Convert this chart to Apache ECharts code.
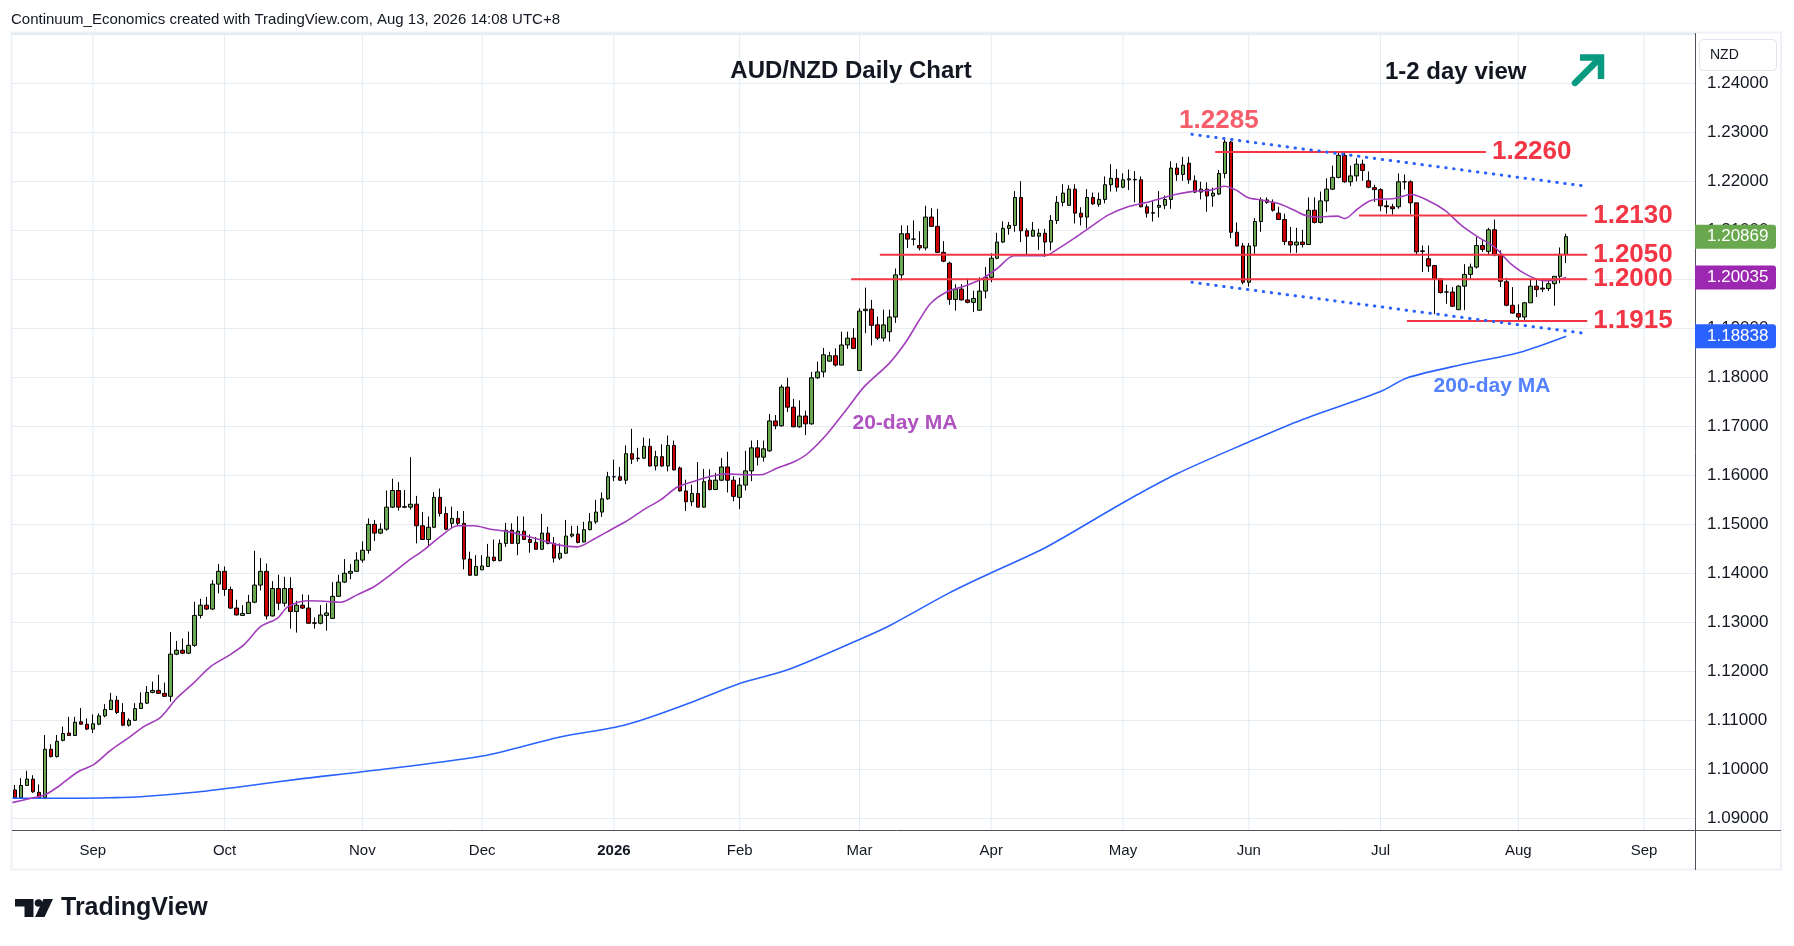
<!DOCTYPE html>
<html>
<head>
<meta charset="utf-8">
<title>AUD/NZD Daily Chart</title>
<script src="https://cdn.jsdelivr.net/npm/echarts@6/dist/echarts.min.js"></script>
<style>
  html, body { margin: 0; padding: 0; background: #fff; }
  #chart { width: 1794px; height: 946px; }
</style>
</head>
<body>
<div id="chart"></div>
<script>
// ---- trading days (weekdays, no Xmas / New Year) ----
const holidays = ['2025-12-25', '2026-01-01'];
const dates = [];
for (let d = new Date(Date.UTC(2025, 7, 13)); dates.length < 281; d.setUTCDate(d.getUTCDate() + 1)) {
  const wd = d.getUTCDay();
  const s = d.toISOString().slice(0, 10);
  if (wd === 0 || wd === 6 || holidays.includes(s)) continue;
  dates.push(s);
}
const MONTHS = ['Jan','Feb','Mar','Apr','May','Jun','Jul','Aug','Sep','Oct','Nov','Dec'];

// ---- daily candles ----
const opens = [
  1.0958,1.0942,1.0967,1.0980,1.0953,1.0942,1.1041,1.1026,1.1059,1.1074,
  1.1069,1.1097,1.1092,1.1082,1.1092,1.1109,1.1122,1.1141,1.1116,1.1090,
  1.1100,1.1124,1.1135,1.1157,1.1161,1.1155,1.1149,1.1235,1.1243,1.1237,
  1.1253,1.1314,1.1335,1.1327,1.1378,1.1404,1.1367,1.1329,1.1314,1.1318,
  1.1341,1.1376,1.1404,1.1313,1.1369,1.1339,1.1369,1.1322,1.1335,1.1329,
  1.1299,1.1298,1.1314,1.1308,1.1353,1.1382,1.1400,1.1404,1.1427,1.1447,
  1.1500,1.1482,1.1490,1.1535,1.1569,1.1536,1.1535,1.1541,1.1497,1.1469,
  1.1494,1.1555,1.1522,1.1502,1.1512,1.1502,1.1429,1.1396,1.1407,1.1414,
  1.1433,1.1426,1.1461,1.1488,1.1461,1.1486,1.1469,1.1463,1.1449,1.1482,
  1.1461,1.1431,1.1441,1.1476,1.1480,1.1464,1.1489,1.1505,1.1525,1.1552,
  1.1597,1.1597,1.1590,1.1644,1.1634,1.1635,1.1659,1.1619,1.1638,1.1619,
  1.1661,1.1615,1.1568,1.1546,1.1563,1.1535,1.1590,1.1571,1.1590,1.1617,
  1.1590,1.1555,1.1580,1.1609,1.1656,1.1637,1.1650,1.1711,1.1701,1.1780,
  1.1739,1.1699,1.1721,1.1705,1.1799,1.1811,1.1833,1.1844,1.1825,1.1866,
  1.1880,1.1814,1.1936,1.1939,1.1907,1.1880,1.1893,1.1923,1.2009,1.2093,
  1.2082,1.2069,1.2064,1.2127,1.2108,1.2055,1.2033,1.1959,1.1980,1.1958,
  1.1953,1.1937,1.1976,1.2004,1.2043,1.2076,1.2104,1.2110,1.2167,1.2099,
  1.2088,1.2088,1.2094,1.2076,1.2120,1.2157,1.2151,1.2184,1.2135,1.2127,
  1.2167,1.2153,1.2163,1.2193,1.2206,1.2188,1.2203,1.2204,1.2203,1.2148,
  1.2136,1.2147,1.2151,1.2163,1.2227,1.2214,1.2237,1.2201,1.2178,1.2184,
  1.2170,1.2174,1.2216,1.2280,1.2096,1.2068,1.1994,1.2068,1.2118,1.2162,
  1.2157,1.2135,1.2122,1.2077,1.2070,1.2076,1.2071,1.2141,1.2116,1.2160,
  1.2184,1.2208,1.2253,1.2199,1.2211,1.2235,1.2201,1.2187,1.2183,1.2150,
  1.2148,1.2148,1.2199,1.2199,1.2156,1.2058,1.2042,1.2028,1.2001,1.1974,
  1.1974,1.1938,1.1986,1.2010,1.2025,1.2069,1.2057,1.2101,1.2050,1.1995,
  1.1947,1.1930,1.1923,1.1952,1.1986,1.1982,1.1981,1.1991,1.2006,1.2051
];
const closes = [
  1.0942,1.0967,1.0980,1.0954,1.0942,1.1041,1.1026,1.1057,1.1073,1.1069,
  1.1096,1.1092,1.1082,1.1093,1.1109,1.1122,1.1141,1.1116,1.1090,1.1100,
  1.1124,1.1135,1.1157,1.1161,1.1155,1.1149,1.1235,1.1243,1.1237,1.1253,
  1.1314,1.1335,1.1327,1.1378,1.1404,1.1367,1.1329,1.1315,1.1318,1.1341,
  1.1376,1.1404,1.1313,1.1369,1.1339,1.1369,1.1322,1.1335,1.1329,1.1298,
  1.1298,1.1315,1.1319,1.1353,1.1382,1.1400,1.1404,1.1427,1.1447,1.1500,
  1.1482,1.1490,1.1535,1.1569,1.1535,1.1535,1.1541,1.1497,1.1469,1.1494,
  1.1555,1.1522,1.1490,1.1512,1.1502,1.1429,1.1396,1.1414,1.1415,1.1433,
  1.1426,1.1461,1.1488,1.1461,1.1486,1.1469,1.1463,1.1449,1.1482,1.1461,
  1.1431,1.1441,1.1476,1.1480,1.1463,1.1489,1.1505,1.1525,1.1552,1.1597,
  1.1597,1.1590,1.1644,1.1633,1.1635,1.1659,1.1619,1.1638,1.1619,1.1661,
  1.1611,1.1568,1.1546,1.1563,1.1535,1.1587,1.1571,1.1590,1.1617,1.1590,
  1.1557,1.1580,1.1609,1.1656,1.1637,1.1654,1.1711,1.1701,1.1780,1.1739,
  1.1699,1.1721,1.1705,1.1799,1.1811,1.1846,1.1844,1.1825,1.1866,1.1880,
  1.1859,1.1935,1.1939,1.1906,1.1880,1.1907,1.1923,1.2009,1.2093,1.2082,
  1.2082,1.2064,1.2127,1.2108,1.2055,1.2037,1.1959,1.1980,1.1958,1.1953,
  1.1961,1.1976,1.2004,1.2043,1.2076,1.2104,1.2110,1.2167,1.2099,1.2088,
  1.2100,1.2094,1.2076,1.2120,1.2157,1.2176,1.2184,1.2135,1.2127,1.2167,
  1.2154,1.2163,1.2193,1.2206,1.2188,1.2203,1.2205,1.2203,1.2148,1.2135,
  1.2135,1.2151,1.2163,1.2227,1.2214,1.2233,1.2203,1.2178,1.2184,1.2170,
  1.2176,1.2216,1.2280,1.2096,1.2068,1.1994,1.2068,1.2118,1.2162,1.2157,
  1.2141,1.2122,1.2077,1.2070,1.2076,1.2071,1.2141,1.2116,1.2160,1.2184,
  1.2208,1.2253,1.2199,1.2211,1.2235,1.2222,1.2188,1.2183,1.2150,1.2148,
  1.2144,1.2199,1.2199,1.2156,1.2056,1.2057,1.2027,1.2001,1.1973,1.1974,
  1.1945,1.1986,1.2010,1.2025,1.2069,1.2061,1.2101,1.2050,1.1996,1.1947,
  1.1931,1.1923,1.1952,1.1986,1.1979,1.1980,1.1991,1.2006,1.2051,1.2087
];
const lows = [
  1.0941,1.0941,1.0966,1.0952,1.0941,1.0941,1.1024,1.1024,1.1057,1.1069,
  1.1068,1.1091,1.1080,1.1074,1.1090,1.1106,1.1121,1.1113,1.1088,1.1087,
  1.1099,1.1123,1.1133,1.1155,1.1154,1.1148,1.1138,1.1233,1.1235,1.1235,
  1.1250,1.1308,1.1325,1.1325,1.1359,1.1354,1.1327,1.1314,1.1313,1.1317,
  1.1339,1.1365,1.1306,1.1312,1.1325,1.1332,1.1287,1.1279,1.1327,1.1297,
  1.1287,1.1296,1.1283,1.1307,1.1352,1.1380,1.1388,1.1403,1.1422,1.1440,
  1.1466,1.1480,1.1487,1.1533,1.1528,1.1533,1.1530,1.1461,1.1468,1.1456,
  1.1492,1.1516,1.1488,1.1492,1.1498,1.1408,1.1395,1.1395,1.1407,1.1413,
  1.1424,1.1424,1.1454,1.1460,1.1437,1.1468,1.1442,1.1448,1.1448,1.1459,
  1.1422,1.1427,1.1440,1.1473,1.1461,1.1463,1.1488,1.1501,1.1515,1.1550,
  1.1588,1.1589,1.1582,1.1623,1.1628,1.1633,1.1618,1.1610,1.1617,1.1608,
  1.1610,1.1567,1.1527,1.1537,1.1535,1.1534,1.1569,1.1570,1.1588,1.1565,
  1.1547,1.1531,1.1569,1.1588,1.1620,1.1628,1.1648,1.1694,1.1699,1.1729,
  1.1698,1.1697,1.1682,1.1703,1.1797,1.1800,1.1832,1.1822,1.1824,1.1858,
  1.1858,1.1814,1.1890,1.1865,1.1876,1.1873,1.1873,1.1911,1.1998,1.2064,
  1.2069,1.2059,1.2059,1.2108,1.2054,1.2035,1.1948,1.1936,1.1957,1.1951,
  1.1933,1.1936,1.1961,1.1994,1.2041,1.2074,1.2091,1.2097,1.2076,1.2049,
  1.2087,1.2060,1.2046,1.2059,1.2113,1.2149,1.2150,1.2114,1.2110,1.2104,
  1.2152,1.2148,1.2155,1.2179,1.2179,1.2186,1.2182,1.2157,1.2147,1.2126,
  1.2118,1.2126,1.2143,1.2144,1.2201,1.2201,1.2195,1.2176,1.2163,1.2138,
  1.2148,1.2172,1.2206,1.2084,1.2067,1.1990,1.1985,1.2052,1.2097,1.2154,
  1.2138,1.2121,1.2070,1.2054,1.2054,1.2065,1.2070,1.2114,1.2114,1.2138,
  1.2182,1.2206,1.2197,1.2190,1.2200,1.2201,1.2186,1.2158,1.2139,1.2134,
  1.2132,1.2144,1.2183,1.2133,1.2051,1.2015,1.2015,1.1929,1.1971,1.1950,
  1.1944,1.1937,1.1937,1.1999,1.2022,1.2056,1.2049,1.2047,1.1984,1.1945,
  1.1930,1.1916,1.1916,1.1952,1.1964,1.1974,1.1976,1.1946,1.1992,1.2033
];
const highs = [
  1.0968,1.0982,1.0997,1.0988,1.0969,1.1070,1.1051,1.1070,1.1087,1.1107,
  1.1107,1.1125,1.1104,1.1112,1.1114,1.1133,1.1156,1.1150,1.1135,1.1104,
  1.1135,1.1157,1.1170,1.1179,1.1193,1.1177,1.1280,1.1262,1.1267,1.1281,
  1.1342,1.1348,1.1352,1.1386,1.1419,1.1414,1.1373,1.1346,1.1335,1.1356,
  1.1446,1.1431,1.1420,1.1384,1.1397,1.1393,1.1392,1.1344,1.1357,1.1356,
  1.1310,1.1335,1.1339,1.1382,1.1397,1.1429,1.1419,1.1443,1.1465,1.1512,
  1.1509,1.1502,1.1569,1.1593,1.1586,1.1570,1.1637,1.1558,1.1525,1.1516,
  1.1566,1.1573,1.1536,1.1536,1.1527,1.1527,1.1444,1.1437,1.1437,1.1460,
  1.1469,1.1469,1.1503,1.1502,1.1516,1.1516,1.1479,1.1474,1.1521,1.1495,
  1.1474,1.1461,1.1509,1.1497,1.1497,1.1505,1.1523,1.1550,1.1565,1.1607,
  1.1632,1.1617,1.1661,1.1695,1.1656,1.1677,1.1675,1.1650,1.1663,1.1681,
  1.1671,1.1618,1.1591,1.1581,1.1627,1.1613,1.1612,1.1605,1.1635,1.1648,
  1.1598,1.1595,1.1650,1.1671,1.1672,1.1671,1.1725,1.1723,1.1785,1.1799,
  1.1756,1.1753,1.1732,1.1811,1.1832,1.1860,1.1852,1.1859,1.1893,1.1893,
  1.1900,1.1941,1.1983,1.1958,1.1924,1.1938,1.1938,1.2022,1.2110,1.2110,
  1.2120,1.2098,1.2150,1.2145,1.2144,1.2078,1.2036,1.1990,1.1990,1.2002,
  1.1977,1.2004,1.2025,1.2053,1.2095,1.2118,1.2117,1.2180,1.2200,1.2104,
  1.2117,1.2103,1.2103,1.2131,1.2170,1.2194,1.2192,1.2194,1.2147,1.2184,
  1.2177,1.2177,1.2210,1.2235,1.2225,1.2216,1.2224,1.2221,1.2210,1.2153,
  1.2162,1.2180,1.2171,1.2241,1.2237,1.2250,1.2250,1.2212,1.2199,1.2198,
  1.2187,1.2223,1.2286,1.2282,1.2116,1.2074,1.2074,1.2125,1.2167,1.2167,
  1.2163,1.2148,1.2134,1.2107,1.2105,1.2101,1.2167,1.2167,1.2179,1.2206,
  1.2232,1.2259,1.2259,1.2232,1.2247,1.2244,1.2220,1.2193,1.2186,1.2161,
  1.2154,1.2216,1.2214,1.2202,1.2156,1.2069,1.2069,1.2028,1.2001,1.1989,
  1.1984,1.1988,1.2031,1.2032,1.2086,1.2080,1.2105,1.2122,1.2059,1.2003,
  1.1984,1.1949,1.1954,1.2001,1.2001,1.1998,1.1998,1.2006,1.2065,1.2093
];

// ---- moving averages, [bar index, value] ----
const ma20 = [[-0.5,1.0932],[2,1.0939],[5,1.0948],[7.6,1.0968],[10.4,1.0994],[13.2,1.1010],[16,1.1039],[18.7,1.1062],
  [21.5,1.1087],[24.3,1.1106],[27,1.1145],[29.9,1.1177],[32.7,1.1210],[35.4,1.1230],[38.2,1.1254],[41,1.1291],
  [43.8,1.1308],[45.5,1.1331],[48.8,1.1344],[51.6,1.1343],[54.4,1.1341],[57.1,1.1356],[60,1.1373],[62.7,1.1397],
  [65.5,1.1424],[68.3,1.1448],[71,1.1475],[73.9,1.1497],[76.6,1.1497],[79.4,1.1490],[82.3,1.1485],[85,1.1477],
  [87.8,1.1468],[90.6,1.1458],[93.9,1.1454],[96.7,1.1470],[99.5,1.1489],[102.3,1.1508],[105,1.1530],[107.8,1.1550],
  [110.6,1.1576],[113.4,1.1588],[116.2,1.1598],[119,1.1603],[121.7,1.1601],[124.5,1.1601],[127.3,1.1615],[130,1.1627],
  [132.3,1.1644],[135.7,1.1686],[139,1.1737],[141.8,1.1781],[146,1.1829],[148.8,1.1873],[151,1.1917],[152.9,1.1951],
  [155.7,1.1975],[158.5,1.1986],[161.3,1.2000],[164,1.2022],[166.8,1.2048],[169.6,1.2048],[171.9,1.2048],[174,1.2061],
  [176.9,1.2084],[179.6,1.2107],[182.5,1.2131],[185.8,1.2148],[188.6,1.2156],[191.3,1.2165],[194.1,1.2174],[196.9,1.2180],
  [199.7,1.2182],[201.9,1.2190],[203.9,1.2182],[205.8,1.2167],[208,1.2162],[210.8,1.2155],[213.6,1.2141],[215.3,1.2131],
  [217.5,1.2127],[220.8,1.2129],[222,1.2124],[224.2,1.2144],[226.4,1.2161],[230.3,1.2165],[233.1,1.2173],[235.9,1.2161],
  [238.7,1.2141],[241.5,1.2110],[244.3,1.2086],[247,1.2066],[249.8,1.2031],[252.6,1.2008],[255.4,1.1997],[257,1.1998],
  [259,1.20035]];
const ma200 = [[-0.5,1.0941],[10,1.0941],[16,1.0942],[21,1.0944],[30,1.0953],[38,1.0965],[48,1.0981],[58,1.0995],
  [78,1.1027],[91,1.1066],[102,1.1091],[113,1.1137],[121,1.1175],[129,1.1203],[141,1.1265],[146,1.1293],
  [156,1.1360],[163,1.1401],[172,1.1452],[185,1.1544],[194,1.1603],[206,1.1668],[215,1.1714],[228,1.1771],
  [232.5,1.1799],[242,1.1827],[251,1.1850],[259,1.18838]];

// ---- drawn levels ----
const levelValues = [1.2260, 1.2130, 1.2050, 1.2000, 1.1915];
const levelStart  = [200.4, 224.4, 144.4, 139.6, 232.4];
const levelEnd    = [245.6, 262.5, 262.5, 262.5, 262.5];
const channelTop    = [[196.5, 1.22959], [262.0, 1.21904]];
const channelBottom = [[196.5, 1.19939], [262.0, 1.18898]];
const lastClose = 1.20869, lastMa20 = 1.20035, lastMa200 = 1.18838;

const Y_MIN = 1.087469, Y_MAX = 1.250265;
const GRID = '#e4ebf2';
const RED = '#f23645';
const FONT = '"Liberation Sans", Arial, sans-serif';

const monthStarts = [];
dates.forEach((s, i) => { if (i > 0 && s.slice(5, 7) !== dates[i - 1].slice(5, 7)) monthStarts.push(i); });

const series = [];
// vertical month grid lines
monthStarts.forEach(i => series.push({
  type: 'line', xAxisIndex: 1, data: [[i, Y_MIN], [i, Y_MAX]], symbol: 'none', silent: true,
  lineStyle: { color: GRID, width: 1 }, z: 0
}));
series.push({
  type: 'candlestick', xAxisIndex: 0, yAxisIndex: 0, barWidth: 4,
  data: opens.map((o, i) => [o, closes[i], lows[i], highs[i]]),
  itemStyle: { color: '#6aa84f', color0: '#cc0000', borderColor: '#000', borderColor0: '#000', borderWidth: 1 },
  z: 2
});
series.push({
  type: 'line', xAxisIndex: 1, data: ma200, smooth: 0.3, symbol: 'none', silent: true,
  lineStyle: { color: '#2962ff', width: 1.6 }, z: 3
});
series.push({
  type: 'line', xAxisIndex: 1, data: ma20, smooth: 0.3, symbol: 'none', silent: true,
  lineStyle: { color: '#a23dbb', width: 1.6 }, z: 3
});
levelValues.forEach((v, k) => series.push({
  type: 'line', xAxisIndex: 1, data: [[levelStart[k], v], [levelEnd[k], v]], symbol: 'none', silent: true,
  lineStyle: { color: RED, width: 2 }, z: 5,
  endLabel: { show: true, formatter: v.toFixed(4), color: RED, fontSize: 26, fontWeight: 'bold', fontFamily: FONT, distance: 6 }
}));
[channelTop, channelBottom].forEach(d => series.push({
  type: 'line', xAxisIndex: 1, data: d, symbol: 'none', silent: true,
  lineStyle: { color: '#2962ff', width: 3, type: [0.5, 7.5], cap: 'round' }, z: 5
}));
// text annotations anchored in data space
const note = (x, y, text, color, size) => ({
  type: 'scatter', xAxisIndex: 1, data: [[x, y]], symbol: 'circle', symbolSize: 1, silent: true,
  itemStyle: { color: 'rgba(0,0,0,0)' }, z: 6,
  label: { show: true, position: 'inside', formatter: text, color: color, fontSize: size, fontWeight: 'bold', fontFamily: FONT }
});
series.push(note(201.0, 1.23231, '1.2285', RED, 26));
series.push(note(148.6, 1.17067, '20-day MA', '#9c27b0', 21));
series.push(note(246.6, 1.17822, '200-day MA', '#2962ff', 21));

const chart = echarts.init(document.getElementById('chart'));
chart.setOption({
  animation: false,
  backgroundColor: '#fff',
  textStyle: { fontFamily: FONT },
  grid: { left: 12, right: 99, top: 33, bottom: 115.3 },
  xAxis: [{
    type: 'category', data: dates, boundaryGap: true,
    axisLine: { show: false }, axisTick: { show: false }, splitLine: { show: false },
    axisLabel: {
      interval: (i) => monthStarts.includes(i),
      formatter: (v) => { const m = +v.slice(5, 7); return m === 1 ? '{y|' + v.slice(0, 4) + '}' : MONTHS[m - 1]; },
      rich: { y: { fontWeight: 'bold', fontSize: 15, color: '#131722', fontFamily: FONT } },
      color: '#131722', fontSize: 15, margin: 13
    }
  }, {
    type: 'value', min: -0.5, max: dates.length - 0.5, show: false
  }],
  yAxis: {
    type: 'value', position: 'right', min: Y_MIN, max: Y_MAX, splitNumber: 16,
    axisLine: { show: false }, axisTick: { show: false },
    splitLine: { lineStyle: { color: GRID, width: 1 } },
    axisLabel: {
      margin: 12, fontSize: 17, color: '#131722',
      formatter: (v) => (v > 1.2455 || v < 1.0885) ? '' : v.toFixed(5)
    }
  },
  series: series
});

const py = v => chart.convertToPixel({ yAxisIndex: 0 }, v);
const priceTag = (v, color) => ([
  { type: 'rect', z: 100, shape: { x: 1695, y: py(v) - 12, width: 81, height: 24, r: [0, 3, 3, 0] }, style: { fill: color } },
  { type: 'text', z: 101, x: 1707, y: py(v), style: { text: v.toFixed(5), fill: '#fff', fontSize: 17, fontFamily: FONT, verticalAlign: 'middle' } }
]);

chart.setOption({
  graphic: [
    { type: 'rect', z: 90, shape: { x: 11.5, y: 32.5, width: 1769.5, height: 837 }, style: { fill: 'none', stroke: '#eef1f6', lineWidth: 2 } },
    { type: 'line', z: 91, shape: { x1: 12, y1: 830.5, x2: 1781, y2: 830.5 }, style: { stroke: '#50535e', lineWidth: 1 } },
    { type: 'line', z: 91, shape: { x1: 1695.5, y1: 33, x2: 1695.5, y2: 870 }, style: { stroke: '#50535e', lineWidth: 1 } },
    { type: 'rect', z: 100, shape: { x: 1699.5, y: 39.5, width: 77, height: 31, r: 4 }, style: { fill: '#fff', stroke: '#e0e3eb', lineWidth: 1 } },
    { type: 'text', z: 101, x: 1710, y: 55, style: { text: 'NZD', fill: '#131722', fontSize: 14, fontFamily: FONT, verticalAlign: 'middle' } },
    ...priceTag(lastClose, '#6aa84f'),
    ...priceTag(lastMa20, '#9c27b0'),
    ...priceTag(lastMa200, '#2962ff'),
    { type: 'text', z: 100, x: 11, y: 20, style: { text: 'Continuum_Economics created with TradingView.com, Aug 13, 2026 14:08 UTC+8', fill: '#131722', fontSize: 15, fontFamily: FONT, verticalAlign: 'middle' } },
    { type: 'text', z: 100, x: 851, y: 71, style: { text: 'AUD/NZD Daily Chart', fill: '#131722', fontSize: 24, fontWeight: 'bold', fontFamily: FONT, align: 'center', verticalAlign: 'middle' } },
    { type: 'text', z: 100, x: 1385, y: 72, style: { text: '1-2 day view', fill: '#131722', fontSize: 24, fontWeight: 'bold', fontFamily: FONT, verticalAlign: 'middle' } },
    { type: 'polyline', z: 100, shape: { points: [[1575, 83], [1598, 60]] }, style: { stroke: '#089981', lineWidth: 6.5, lineCap: 'round' } },
    { type: 'polyline', z: 100, shape: { points: [[1580, 57.5], [1601, 57.5], [1601, 79]] }, style: { stroke: '#089981', lineWidth: 6.5, lineJoin: 'miter', fill: null } },
    // TradingView mark
    { type: 'rect', z: 100, shape: { x: 15, y: 899, width: 18, height: 7.5 }, style: { fill: '#131722' } },
    { type: 'rect', z: 100, shape: { x: 24.5, y: 899, width: 9, height: 18 }, style: { fill: '#131722' } },
    { type: 'circle', z: 100, shape: { cx: 38.5, cy: 903, r: 3.8 }, style: { fill: '#131722' } },
    { type: 'polygon', z: 100, shape: { points: [[43.5, 899], [53, 899], [44.5, 917], [35, 917]] }, style: { fill: '#131722' } },
    { type: 'text', z: 100, x: 61, y: 908, style: { text: 'TradingView', fill: '#131722', fontSize: 25, fontWeight: 'bold', fontFamily: FONT, verticalAlign: 'middle' } }
  ]
});
</script>
</body>
</html>
